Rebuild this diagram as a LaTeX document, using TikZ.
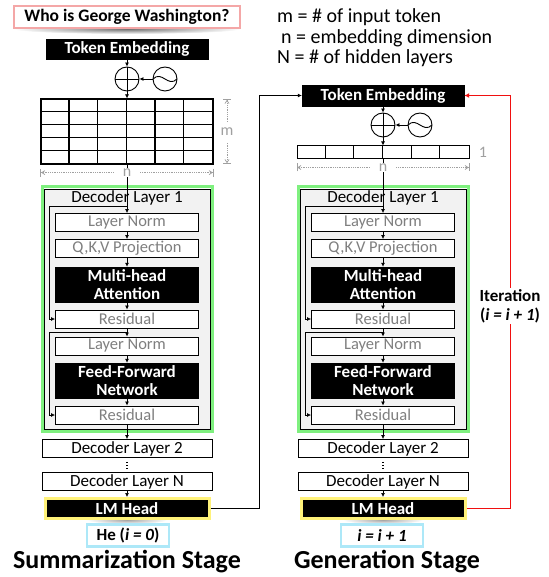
\documentclass[tikz,border=0pt]{standalone}
\usepackage{fontspec}
\setmainfont{Carlito}
\usetikzlibrary{arrows.meta,fit}
\definecolor{qpink}{HTML}{F4A7A7}
\definecolor{lgreen}{HTML}{7FF07F}
\definecolor{lyellow}{HTML}{FFF27A}
\definecolor{lcyan}{HTML}{ADE8F8}
\definecolor{boxgray}{HTML}{F2F2F2}
\definecolor{txtgray}{HTML}{7F7F7F}
\definecolor{dimgray}{HTML}{A0A0A0}
\definecolor{itred}{HTML}{F01010}
\tikzset{
  arr/.style={-{Latex[length=4pt,width=4pt]}, line width=0.7pt},
  whitebox/.style={draw, line width=0.9pt, fill=white, minimum width=143, minimum height=18, inner sep=0pt, text=txtgray, font=\fontsize{16.5}{17}\selectfont},
  blackbox/.style={draw, fill=black, text=white, inner sep=0pt, align=center, font=\bfseries\fontsize{17}{17.5}\selectfont},
  layerbox/.style={draw, line width=0.9pt, fill=white, minimum width=170, minimum height=18, inner sep=0pt, font=\fontsize{17}{18}\selectfont},
  lmbox/.style={blackbox, draw=lyellow, line width=3pt, minimum width=164, minimum height=20},
  outbox/.style={draw=lcyan, line width=2.5pt, fill=white, minimum width=82, minimum height=22, inner sep=0pt, font=\bfseries\fontsize{17}{18}\selectfont},
  greenframe/.style={draw=lgreen, line width=3pt, inner sep=1.6pt},
  addcirc/.style={circle, draw, line width=0.9pt, minimum size=24, inner sep=0pt,
    path picture={\draw[line width=0.9pt] (path picture bounding box.north) -- (path picture bounding box.south)
      (path picture bounding box.west) -- (path picture bounding box.east);}},
  wavecirc/.style={circle, draw, line width=0.9pt, minimum size=24, inner sep=0pt,
    path picture={\draw[line width=0.9pt] (path picture bounding box.west) .. controls ([shift={(9pt,9pt)}]path picture bounding box.west)
      and ([shift={(-9pt,-9pt)}]path picture bounding box.east) .. (path picture bounding box.east);}},
  dimline/.style={dimgray, densely dotted, line width=0.8pt, {Bar[width=8pt]Straight Barb[length=3pt,width=4pt]}-{Straight Barb[length=3pt,width=4pt]Bar[width=8pt]}},
  dimlabel/.style={text=dimgray, fill=white, inner xsep=9pt, inner ysep=1pt, font=\fontsize{16}{17}\selectfont},
  legend/.style={anchor=base west, inner sep=0pt, font=\fontsize{20}{22}\selectfont},
  stagetitle/.style={font=\bfseries\fontsize{26}{28}\selectfont}
}
\begin{document}
\begin{tikzpicture}[x=1pt,y=-1pt]
\useasboundingbox (0,0) rectangle (548,577);
% input side
\shade[inner color=black!55, outer color=white] (127,29) ellipse [x radius=114pt, y radius=5pt];
\node[draw=qpink, line width=2.5pt, fill=white, minimum width=226, minimum height=22, inner sep=0pt, font=\bfseries\fontsize{17.5}{18}\selectfont] (question) at (127,17) {Who is George Washington?};
\node[blackbox, minimum width=162, minimum height=20] (embS) at (127,49) {Token Embedding};
\node[addcirc] (addS) at (127,79) {};
\node[wavecirc] (waveS) at (165,79) {};
\node[draw, line width=1.2pt, minimum width=172, minimum height=65, inner sep=0pt] (tokmat) at (127,131.5) {};
\foreach \i in {1,...,5} \draw[line width=1.2pt] ([xshift=\i*172/6]tokmat.north west) -- ([xshift=\i*172/6]tokmat.south west);
\foreach \j in {1,...,4} \draw[line width=1.2pt] ([yshift=-\j*13]tokmat.north west) -- ([yshift=-\j*13]tokmat.north east);
\draw[arr] (embS) -- (addS);
\draw[arr] (waveS) -- (addS);
\draw[arr] (addS) -- (tokmat);
\draw[dimline] (227,99) -- (227,164);
\node[dimlabel, inner xsep=1pt, inner ysep=6pt] (mlab) at (227,132) {m};
% generation side
\node[blackbox, minimum width=162, minimum height=21] (embG) at (383,95.5) {Token Embedding};
\node[addcirc] (addG) at (383,125) {};
\node[wavecirc] (waveG) at (420,125) {};
\node[draw, line width=1pt, minimum width=172, minimum height=13, inner sep=0pt] (vec) at (383,152.5) {};
\foreach \i in {1,...,5} \draw[line width=1pt] ([xshift=\i*172/6]vec.north west) -- ([xshift=\i*172/6]vec.south west);
\draw[arr] (embG) -- (addG);
\draw[arr] (waveG) -- (addG);
\draw[arr] (addG) -- (vec);
\node[text=dimgray, font=\fontsize{16}{17}\selectfont] (onelab) at (483,152) {1};
% legend
\node[legend] (legm) at (277,23) {m = \# of input token};
\node[legend] (legn) at (281,43.5) {n = embedding dimension};
\node[legend] (legN) at (277,64) {N = \# of hidden layers};
% decoder stacks
\foreach \c/\cx/\top in {S/127/tokmat, G/383/vec} {
  \node[fill=boxgray, draw, line width=0.8pt, minimum width=166, minimum height=240] (dec1\c) at (\cx,309) {};
  \node[greenframe, fit=(dec1\c)] (frame\c) {};
  \node[font=\fontsize{17}{18}\selectfont] (title\c) at (\cx,198) {Decoder Layer 1};
  \node[whitebox] (ln1\c) at (\cx,222.5) {Layer Norm};
  \node[whitebox] (qkv\c) at (\cx,248.5) {Q,K,V Projection};
  \node[blackbox, minimum width=143, minimum height=35] (mha\c) at (\cx,284.5) {Multi-head\\Attention};
  \node[whitebox] (res1\c) at (\cx,319) {Residual};
  \node[whitebox] (ln2\c) at (\cx,346) {Layer Norm};
  \node[blackbox, minimum width=143, minimum height=35] (ffn\c) at (\cx,380.5) {Feed-Forward\\Network};
  \node[whitebox] (res2\c) at (\cx,415) {Residual};
  \node[layerbox] (dec2\c) at (\cx,448.5) {Decoder Layer 2};
  \node[layerbox] (decN\c) at (\cx,481.5) {Decoder Layer N};
  \shade[inner color=black!35, outer color=white] (\cx,520) ellipse [x radius=40pt, y radius=4pt];
  \node[lmbox] (lm\c) at (\cx,508.5) {LM Head};
  \coordinate (skipa\c) at (\cx,206);
  \coordinate (skipb\c) at (\cx,332);
  \draw[arr] (\top.south) -- (ln1\c.north);
  \draw[arr] (ln1\c) -- (qkv\c);
  \draw[arr] (qkv\c) -- (mha\c);
  \draw[arr] (mha\c) -- (res1\c);
  \draw[arr] (res1\c) -- (ln2\c);
  \draw[arr] (ln2\c) -- (ffn\c);
  \draw[arr] (ffn\c) -- (res2\c);
  \draw[arr] (skipa\c) -- ++(-78,0) |- (res1\c.west);
  \draw[arr] (skipb\c) -- ++(-78,0) |- (res2\c.west);
  \draw[arr] (res2\c) -- (dec2\c);
  \draw[line width=1.2pt, dotted, shorten <=4pt, shorten >=3pt] (dec2\c) -- (decN\c);
  \draw[arr] (decN\c) -- (lm\c);
  \draw[dimline] ([yshift=-8]\top.south west) -- ([yshift=-8]\top.south east);
  \node[dimlabel] (nlab\c) at ([yshift=-8]\top.south) {n};
}
\node[outbox] (outS) at (128,535.5) {He (\textit{i = 0})};
\node[outbox] (outG) at (382,535.5) {\textit{i = i + 1}};
\node[stagetitle] (sumtitle) at (127,562) {Summarization Stage};
\node[stagetitle] (gentitle) at (387,562) {Generation Stage};
% feedback
\draw[arr] (lmS.east) -- ++(49,0) |- (embG.west);
\draw[itred, line width=1.8pt, -{Latex[length=5pt,width=5pt]}] (lmG.east) -- ++(44,0) |- (embG.east);
\node[fill=white, align=center, inner sep=1pt, font=\bfseries\fontsize{17}{19}\selectfont] (iter) at (510,306) {Iteration\\(\textit{i = i + 1})};
\end{tikzpicture}
\end{document}
